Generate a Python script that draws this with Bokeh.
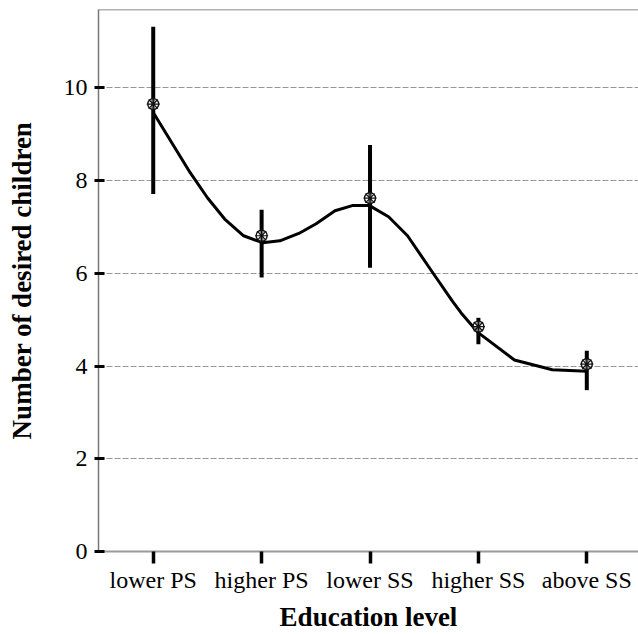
from bokeh.plotting import figure
from bokeh.models import FixedTicker, Span, Range1d
from bokeh.embed import file_html
from bokeh.resources import INLINE

# ---- data ----
categories = ["lower PS", "higher PS", "lower SS", "higher SS", "above SS"]
means = [9.65, 6.81, 7.62, 4.85, 4.04]
err_low = [7.71, 5.91, 6.12, 4.47, 3.48]
err_high = [11.32, 7.37, 8.77, 5.04, 4.33]

# smoothed fit line (position along the category axis, value)
curve_x = [1.000, 1.341, 1.500, 1.659, 1.834, 2.009, 2.168, 2.343, 2.503,
           2.677, 2.836, 2.995, 3.171, 3.346, 3.568, 3.760, 3.839, 3.998,
           4.332, 4.682, 5.001]
curve_y = [9.47, 8.17, 7.63, 7.17, 6.81, 6.66, 6.70, 6.86, 7.07,
           7.35, 7.46, 7.46, 7.22, 6.81, 6.05, 5.40, 5.15, 4.72,
           4.13, 3.92, 3.89]

y_ticks = [0, 2, 4, 6, 8, 10]
y_max = 11.69

positions = list(range(1, len(categories) + 1))

SERIF = "Liberation Serif"

p = figure(width=638, height=634, output_backend="svg", toolbar_location=None,
           x_range=Range1d(0.495, 5.477), y_range=Range1d(0, y_max),
           min_border_left=98, min_border_right=0, min_border_top=9,
           min_border_bottom=83)
p.outline_line_color = None
p.background_fill_color = "white"
p.border_fill_color = "white"

# top frame line
p.add_layout(Span(location=y_max, dimension="width", line_color="#666666",
                  line_width=1.5))

# grid
p.xgrid.visible = False
p.ygrid.ticker = FixedTicker(ticks=[t for t in y_ticks if t > 0])
p.ygrid.grid_line_color = "#999999"
p.ygrid.grid_line_dash = "6 2"
p.ygrid.grid_line_width = 1

# x axis
p.xaxis.ticker = FixedTicker(ticks=positions)
p.xaxis.major_label_overrides = {pos: c for pos, c in zip(positions, categories)}
p.xaxis.axis_label = "Education level"
p.xaxis.axis_line_color = "#999999"
p.xaxis.axis_line_width = 2
p.xaxis.major_tick_line_color = "black"
p.xaxis.major_tick_line_width = 3.5
p.xaxis.major_tick_out = 12
p.xaxis.major_tick_in = 0
p.xaxis.minor_tick_line_color = None
p.xaxis.major_label_text_font = SERIF
p.xaxis.major_label_text_font_size = "24px"
p.xaxis.major_label_text_color = "black"
p.xaxis.major_label_standoff = 3
p.xaxis.axis_label_text_font = SERIF
p.xaxis.axis_label_text_font_style = "bold"
p.xaxis.axis_label_text_font_size = "27px"
p.xaxis.axis_label_text_color = "black"
p.xaxis.axis_label_standoff = 6

# y axis
p.yaxis.ticker = FixedTicker(ticks=y_ticks)
p.yaxis.axis_label = "Number of desired children"
p.yaxis.axis_line_color = "#777777"
p.yaxis.axis_line_width = 1.5
p.yaxis.major_tick_line_color = "black"
p.yaxis.major_tick_line_width = 3
p.yaxis.major_tick_out = 4
p.yaxis.major_tick_in = 6
p.yaxis.minor_tick_line_color = None
p.yaxis.major_label_text_font = SERIF
p.yaxis.major_label_text_font_size = "24px"
p.yaxis.major_label_text_color = "black"
p.yaxis.major_label_standoff = 7
p.yaxis.axis_label_text_font = SERIF
p.yaxis.axis_label_text_font_style = "bold"
p.yaxis.axis_label_text_font_size = "27px"
p.yaxis.axis_label_text_color = "black"
p.yaxis.axis_label_standoff = 24

# error bars
p.segment(x0=positions, y0=err_low, x1=positions, y1=err_high,
          line_color="black", line_width=4, line_cap="butt")

# fit line
p.line(curve_x, curve_y, line_color="black", line_width=3, line_join="round")

# markers
p.scatter(positions, means, marker="circle", size=11, fill_color="white",
          fill_alpha=0.5, line_color="#111111", line_width=1.4)
p.scatter(positions, means, marker="asterisk", size=13,
          line_color="#111111", line_width=1.2)

open("out.html", "w").write(file_html(p, INLINE))
